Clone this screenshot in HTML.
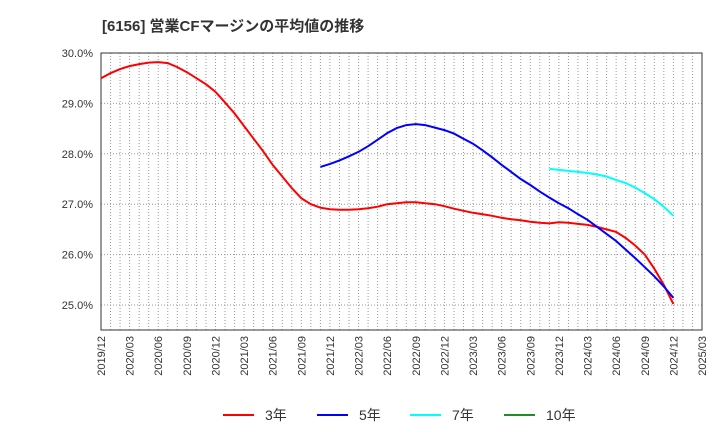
<!DOCTYPE html>
<html><head><meta charset="utf-8"><style>
body{margin:0;background:#fff;}
svg{display:block;font-family:"Liberation Sans","Noto Sans CJK JP",sans-serif;}
</style></head><body>
<svg id="chart" width="720" height="440">
<text x="102" y="31" font-size="15" font-weight="bold" fill="#333">[6156]  営業CFマージンの平均値の推移</text>
</svg>
<script>
const monthLabels=["2019/12","2020/03","2020/06","2020/09","2020/12","2021/03","2021/06","2021/09","2021/12","2022/03","2022/06","2022/09","2022/12","2023/03","2023/06","2023/09","2023/12","2024/03","2024/06","2024/09","2024/12","2025/03"];
const yTicks=[25,26,27,28,29,30];
// monthly values starting 2019/12 (index 0)
const s3=[29.50,29.60,29.68,29.74,29.78,29.81,29.82,29.80,29.72,29.62,29.50,29.38,29.23,29.02,28.80,28.55,28.30,28.05,27.78,27.55,27.32,27.12,27.00,26.93,26.90,26.89,26.89,26.90,26.92,26.95,27.00,27.02,27.04,27.04,27.02,27.00,26.96,26.91,26.87,26.83,26.80,26.77,26.73,26.70,26.68,26.65,26.63,26.62,26.64,26.63,26.61,26.59,26.55,26.50,26.45,26.33,26.18,26.00,25.72,25.40,25.02];
const s5Start=23;
const s5=[27.74,27.80,27.87,27.95,28.04,28.15,28.28,28.41,28.51,28.57,28.59,28.57,28.52,28.47,28.40,28.30,28.20,28.07,27.93,27.78,27.64,27.50,27.38,27.25,27.13,27.02,26.92,26.80,26.69,26.55,26.41,26.27,26.10,25.93,25.75,25.57,25.37,25.14];
const s7Start=47;
const s7=[27.70,27.68,27.66,27.64,27.62,27.59,27.55,27.48,27.42,27.33,27.22,27.10,26.95,26.77];
const L=101,R=702,T=53,B=330,nMonths=63;
const X=i=>L+i*(R-L)/nMonths;
const Y=v=>T+(30-v)*(305-T)/5;
const svg=document.getElementById('chart');const ns='http://www.w3.org/2000/svg';
function mk(t,a,p){const e=document.createElementNS(ns,t);for(const k in a)e.setAttribute(k,a[k]);(p||svg).appendChild(e);return e;}
for(let i=1;i<nMonths;i++){const g=mk('line',{x1:X(i),x2:X(i),y1:T,y2:B,stroke:'#999','stroke-dasharray':'1,2','stroke-width':1});

}
yTicks.forEach(v=>{const g=mk('line',{x1:L,x2:R,y1:Y(v),y2:Y(v),stroke:'#999','stroke-dasharray':'1,2'});


const t=mk('text',{x:L-8,y:Y(v)+4,'text-anchor':'end','font-size':11,fill:'#333'});t.textContent=v.toFixed(1)+'%';

});
const fr=mk('rect',{x:L,y:T,width:R-L,height:B-T,fill:'none',stroke:'#333'});


monthLabels.forEach((lab,j)=>{const x=X(j*3);const t=mk('text',{x:0,y:0,'font-size':11,fill:'#333','text-anchor':'end',transform:`translate(${x+4},${B+6}) rotate(-90)`});t.textContent=lab;

});
function series(arr,start,color,name){const d=arr.map((v,i)=>(i?'L':'M')+X(start+i).toFixed(1)+','+Y(v).toFixed(1)).join('');
const p=mk('path',{d:d,fill:'none',stroke:color,'stroke-width':2});

}
series(s3,0,'#ff0000','line-3yr');
series(s5,s5Start,'#0000ff','line-5yr');
series(s7,s7Start,'#00ffff','line-7yr');
const leg=[['3年','#ff0000',223],['5年','#0000ff',317],['7年','#00ffff',410],['10年','#228b22',504]];
leg.forEach(([t,c,x])=>{const g=mk('g',{});


mk('line',{x1:x,x2:x+31,y1:415,y2:415,stroke:c,'stroke-width':2},g);
const tx=mk('text',{x:x+42,y:420,'font-size':14,fill:'#333'},g);tx.textContent=t;});
</script>
</body></html>
